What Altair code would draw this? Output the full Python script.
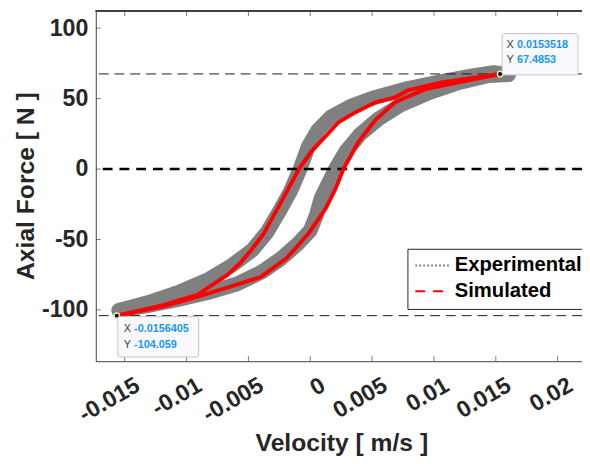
import json
import altair as alt
import pandas as pd

# ---------------- data ----------------
# Experimental cloud, centre line of the band
exp_up_x = [0.01603, 0.01483, 0.01324, 0.01061, 0.00789, 0.00526, 0.00327, 0.00167, 0.00064,
            -0.00016, -0.00080, -0.00159, -0.00247, -0.00351, -0.00470, -0.00630, -0.00829,
            -0.01069, -0.01308, -0.01547]
exp_up_y = [67.0, 68.4, 66.3, 62.1, 57.2, 50.9, 44.6, 36.9, 27.8,
            15.9, 0.5, -15.6, -29.6, -45.0, -57.6, -68.1, -78.6,
            -87.7, -94.7, -100.3]
exp_lo_x = [-0.01547, -0.01308, -0.01069, -0.00829, -0.00590, -0.00391, -0.00231, -0.00096,
            0.0, 0.00048, 0.00088, 0.00136, 0.00207, 0.00287, 0.00407, 0.00550, 0.00726,
            0.00965, 0.01204, 0.01443, 0.01603]
exp_lo_y = [-100.3, -96.9, -92.6, -87.7, -81.5, -73.0, -63.2, -52.7,
            -43.6, -33.1, -20.5, -12.1, 0.5, 12.4, 25.0, 35.5, 45.3,
            54.4, 61.4, 66.3, 67.0]

# Simulated loop
sim_up_x = [0.0153518, 0.01324, 0.01061, 0.00789, 0.00686, 0.00526, 0.00367, 0.00231, 0.00008,
            -0.00088, -0.00231, -0.00375, -0.00478, -0.00566, -0.00670, -0.00909, -0.01196,
            -0.01547, -0.0156405]
sim_up_y = [67.4853, 64.9, 61.4, 55.8, 50.9, 47.4, 40.4, 33.4, 12.4,
            0.5, -22.6, -45.7, -57.6, -66.7, -75.1, -89.1, -96.8,
            -103.8, -104.059]
sim_lo_x = [-0.0156405, -0.01196, -0.00933, -0.00670, -0.00399, -0.00191, -0.00112, -0.00008,
            0.00128, 0.00207, 0.00271, 0.00391, 0.00526, 0.00686, 0.00925, 0.01188, 0.0153518]
sim_lo_y = [-104.059, -97.6, -91.3, -84.2, -76.5, -63.2, -55.5, -45.0,
            -27.5, -13.5, 0.5, 19.4, 34.8, 47.4, 56.5, 61.4, 67.4853]

ref_lines = [67.4853, -104.059]
zero_line = [0.0]

x_tick_vals = [-0.015, -0.01, -0.005, 0.0, 0.005, 0.01, 0.015, 0.02]
x_tick_labels = ["-0.015", "-0.01", "-0.005", "0", "0.005", "0.01", "0.015", "0.02"]
y_tick_vals = [-100, -50, 0, 50, 100]
y_tick_labels = ["-100", "-50", "0", "50", "100"]

series_names = ["Experimental", "Simulated"]

tip_max = {"x": 0.0153518, "y": 67.4853, "xs": "0.0153518", "ys": "67.4853"}
tip_min = {"x": -0.0156405, "y": -104.059, "xs": "-0.0156405", "ys": "-104.059"}

# ---------------- tables ----------------
def branch_df(xs, ys, name):
    return pd.DataFrame({"x": xs, "y": ys, "branch": name, "i": list(range(len(xs)))})

exp_df = pd.concat([branch_df(exp_up_x, exp_up_y, "up"), branch_df(exp_lo_x, exp_lo_y, "lo")])
exp_df["series"] = "Experimental"
sim_df = pd.concat([branch_df(sim_up_x, sim_up_y, "sup"), branch_df(sim_lo_x, sim_lo_y, "slo")])
sim_df["series"] = "Simulated"
all_df = pd.concat([exp_df, sim_df], ignore_index=True)

W, H = 493, 355
FONT = "Liberation Sans"
TXT = "#262626"
AX = "#404040"

xs = alt.Scale(domain=[-0.01734, 0.02197], nice=False, zero=False)
ys = alt.Scale(domain=[-136.4, 112.1], nice=False, zero=False)

x_expr = json.dumps(x_tick_labels) + "[round((datum.value + 0.015) / 0.005)]"
y_expr = json.dumps(y_tick_labels) + "[round((datum.value + 100) / 50)]"

common = dict(grid=False, ticks=False, domain=True, domainColor=AX, domainWidth=1,
              labelOverlap=False, labelFont=FONT, labelFontSize=23.5, labelFontWeight="bold",
              labelColor=TXT, titleFont=FONT, titleFontSize=25, titleFontWeight="bold",
              titleColor=TXT)

x_axis = alt.Axis(values=x_tick_vals, labelExpr=x_expr,
                  labelAngle=330, labelAlign="right", labelBaseline="top",
                  labelOffset=7, labelPadding=12, title="Velocity [ m/s ]",
                  titleX=249, titleY=91, titleAlign="center", titleBaseline="alphabetic", **common)
y_axis = alt.Axis(values=y_tick_vals, labelExpr=y_expr,
                  labelPadding=8, title="Axial Force [ N ]", titleAngle=270,
                  titleX=-63, titleY=177, titleAlign="center", titleBaseline="alphabetic", **common)

X = alt.X("x:Q", scale=xs)
Y = alt.Y("y:Q", scale=ys)

exp_layer = alt.Chart(exp_df).mark_line(
    color="#808080", strokeWidth=15, strokeCap="round", strokeJoin="round", clip=True
).encode(
    x=alt.X("x:Q", scale=xs, axis=x_axis),
    y=alt.Y("y:Q", scale=ys, axis=y_axis),
    detail="branch:N",
    order="i:Q",
)

ref_layer = alt.Chart(pd.DataFrame({"y": ref_lines})).mark_rule(
    color="#1a1a1a", strokeWidth=1, strokeDash=[10, 6]
).encode(y=Y)

zero_layer = alt.Chart(pd.DataFrame({"y": zero_line})).mark_rule(
    color="black", strokeWidth=2.5, strokeDash=[10, 7]
).encode(y=Y)

sim_layer = alt.Chart(sim_df).mark_line(color="#ff0000", strokeWidth=4, clip=True).encode(
    x=X, y=Y, detail="branch:N", order="i:Q",
)

legend_layer = alt.Chart(all_df).transform_filter("datum.x > 1").mark_line(strokeWidth=2).encode(
    x=X, y=Y,
    color=alt.Color("series:N", scale=alt.Scale(domain=series_names, range=["#808080", "#ff0000"]),
                    legend=alt.Legend(title=None)),
    strokeDash=alt.StrokeDash("series:N", scale=alt.Scale(domain=series_names, range=[[2, 2], [10, 8]]),
                              legend=alt.Legend(title=None)),
)

xt_df = pd.DataFrame({"x": x_tick_vals})
yt_df = pd.DataFrame({"y": y_tick_vals})

bottom_ticks = alt.Chart(xt_df).mark_tick(color=AX, thickness=1, size=5).encode(
    x=X, y=alt.value(H - 2.5))
top_ticks = alt.Chart(xt_df).mark_tick(color=AX, thickness=1, size=5).encode(
    x=X, y=alt.value(2.5))
left_ticks = alt.Chart(yt_df).mark_tick(color=AX, thickness=1, size=5).encode(
    y=Y, x=alt.value(2.5))
top_frame = alt.Chart(xt_df).mark_rule(color=AX, strokeWidth=1).encode(
    x=alt.value(0), x2=alt.value(W), y=alt.value(0))


def datatip(tip, box, tx, ty1, ty2):
    d = pd.DataFrame([tip])
    base = alt.Chart(d)
    enc = dict(x=X, y=Y)
    rect = base.mark_rect(xOffset=box[0], x2Offset=box[1], yOffset=box[2], y2Offset=box[3],
                          fill="#f9f9fd", stroke="#c4c4c4", strokeWidth=1, cornerRadius=2).encode(
        x2=alt.X2("x:Q"), y2=alt.Y2("y:Q"), **enc)
    lx1 = base.mark_text(text="X", align="left", baseline="middle", dx=tx, dy=ty1,
                         font=FONT, fontSize=11, color="#404040").encode(**enc)
    lx2 = base.mark_text(text="Y", align="left", baseline="middle", dx=tx, dy=ty2,
                         font=FONT, fontSize=11, color="#404040").encode(**enc)
    v1 = base.mark_text(align="left", baseline="middle", dx=tx + 10.5, dy=ty1, font=FONT,
                        fontSize=11, fontWeight="bold", color="#1398f5").encode(text="xs:N", **enc)
    v2 = base.mark_text(align="left", baseline="middle", dx=tx + 10.5, dy=ty2, font=FONT,
                        fontSize=11, fontWeight="bold", color="#1398f5").encode(text="ys:N", **enc)
    dot = base.mark_circle(size=30, fill="black", stroke="#ece7b8", strokeWidth=1.5, opacity=1).encode(**enc)
    return [dot, rect, lx1, lx2, v1, v2]


tips = datatip(tip_max, (2, 79, -41, 1), 6.5, -29.6, -14.6) + \
       datatip(tip_min, (1, 83, 1, 42), 7, 14, 29.5)

chart = alt.layer(
    exp_layer, ref_layer, zero_layer, sim_layer, legend_layer,
    bottom_ticks, top_ticks, left_ticks, top_frame, *tips
).properties(
    width=W, height=H,
    padding={"left": 89, "top": 0, "right": 0, "bottom": 95},
    autosize=alt.AutoSizeParams(type="none"),
).configure_view(stroke=None).configure_axis(
    labelFont=FONT, labelFontSize=23.5, labelFontWeight="bold", labelColor=TXT,
    titleFont=FONT, titleFontSize=25, titleFontWeight="bold", titleColor=TXT,
    domainColor=AX, domainWidth=1,
).configure_legend(
    orient="none", legendX=316, legendY=241, padding=7, rowPadding=5, clipHeight=20,
    fillColor="white", strokeColor="#262626", cornerRadius=0,
    labelFont=FONT, labelFontSize=20.5, labelFontWeight="bold", labelColor="black",
    labelOffset=4, symbolType="stroke", symbolSize=1225, symbolStrokeWidth=2,
    symbolOpacity=1,
)

chart.save("out.html", embed_options={"renderer": "svg", "actions": False})
